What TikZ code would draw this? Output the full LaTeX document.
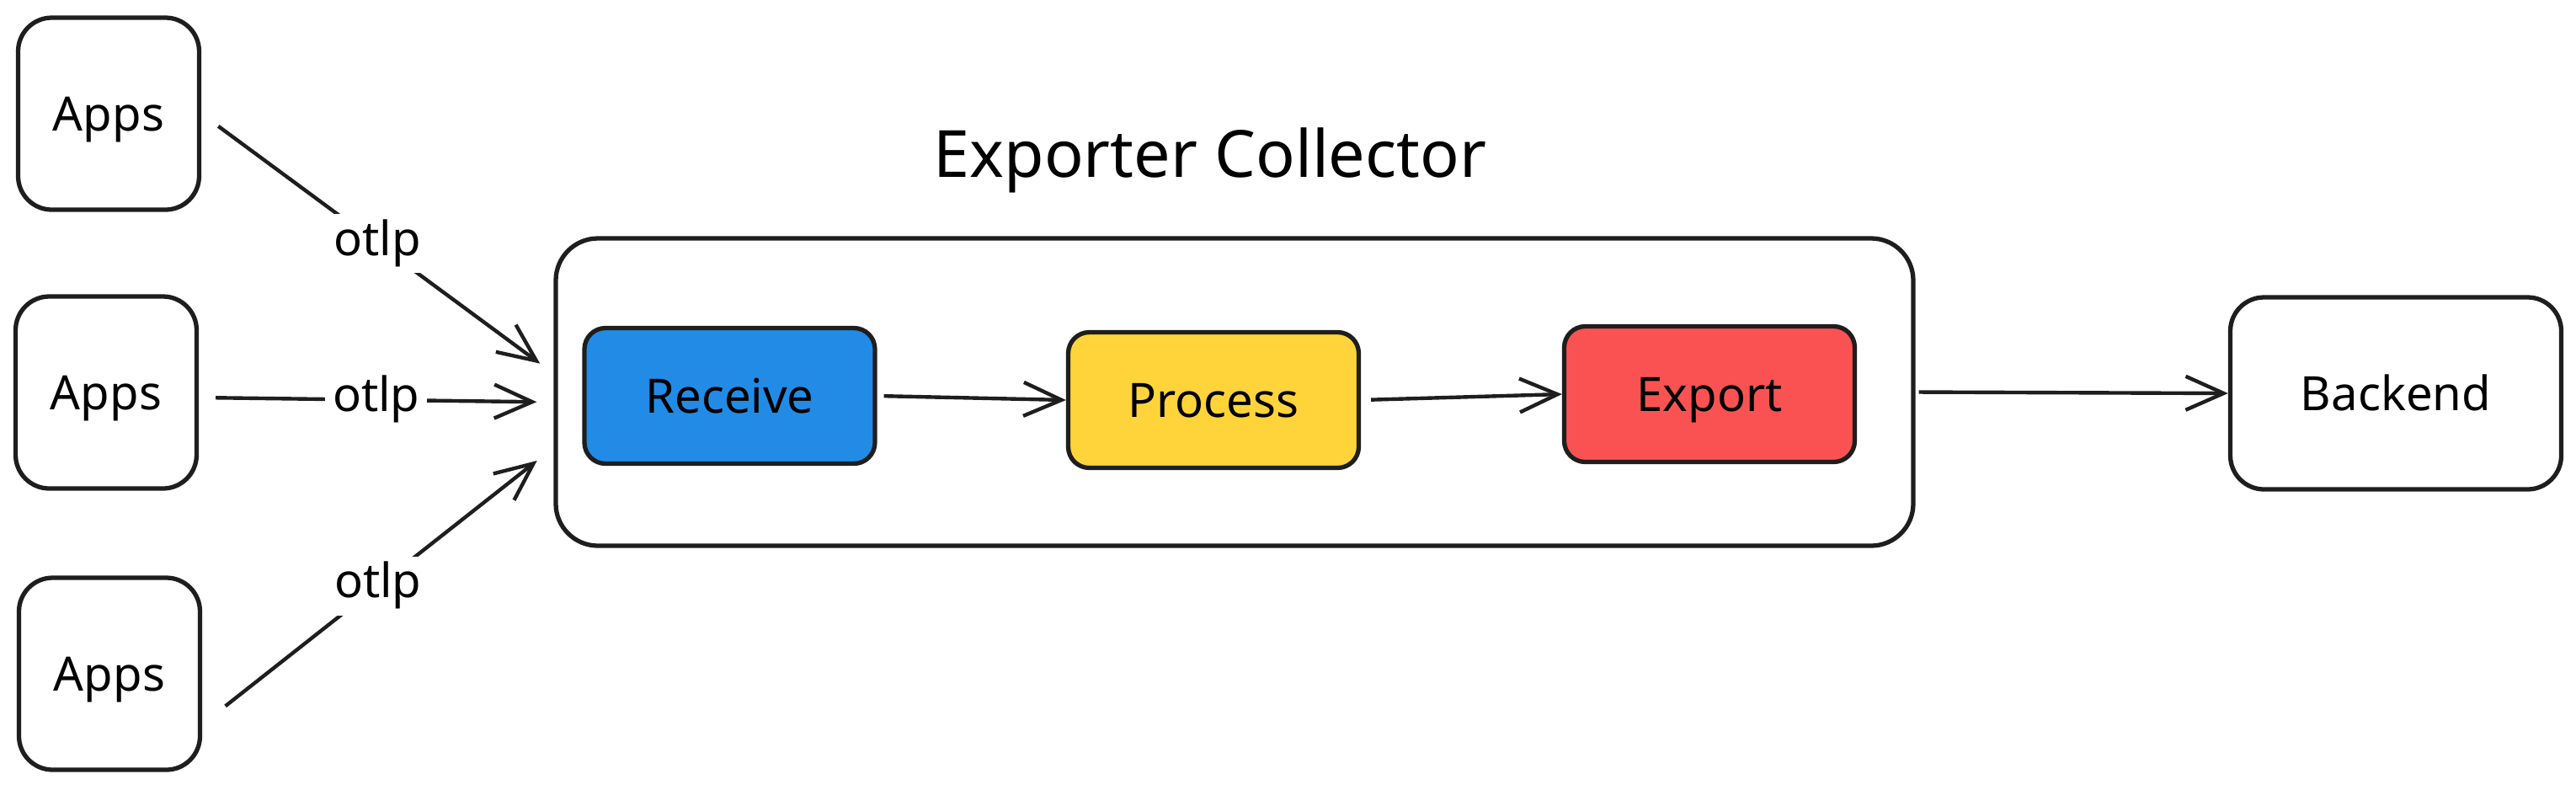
\documentclass[tikz,border=0pt]{standalone}
\usepackage{fontspec}
\setmainfont{Noto Sans}
\usetikzlibrary{arrows.meta}
\definecolor{ink}{HTML}{1E1E1E}
\definecolor{recvblue}{HTML}{228BE6}
\definecolor{procyellow}{HTML}{FFD43B}
\definecolor{exportred}{HTML}{FA5252}

\begin{document}
\begin{tikzpicture}[
  appbox/.style={draw=ink, line width=1.5pt, rounded corners=.4cm,
    minimum width=2.15cm, minimum height=2.28cm, text height=11.5pt, text depth=0pt,
    font=\fontsize{16}{19}\selectfont},
  stagebox/.style={draw=ink, line width=1.5pt, rounded corners=.25cm,
    minimum width=3.45cm, minimum height=1.61cm, text height=11.5pt, text depth=0pt,
    font=\fontsize{16}{19}\selectfont},
  flow/.style={draw=ink, line width=1.25pt, -{Straight Barb[length=4.5mm,width=4mm]}},
  wirelabel/.style={fill=white, inner sep=2.5pt, text height=11.5pt, text depth=3.5pt,
    font=\fontsize{16}{19}\selectfont}]
\useasboundingbox (0,0) rectangle (30.59,-9.37);

% sources
\node[appbox] (apps1) at (1.29,-1.35) {Apps};
\node[appbox] (apps2) at (1.26,-4.66) {Apps};
\node[appbox] (apps3) at (1.30,-8.00) {Apps};

% collector and its stages
\node[draw=ink, line width=1.5pt, rounded corners=.5cm,
  minimum width=16.12cm, minimum height=3.65cm] (collector) at (14.66,-4.655) {};
\node[anchor=base, font=\fontsize{22}{26}\selectfont] (title) at (14.37,-2.10) {Exporter Collector};

\node[stagebox, fill=recvblue] (receive) at (8.665,-4.70) {Receive};
\node[stagebox, fill=procyellow] (process) at (14.41,-4.75) {Process};
\node[stagebox, fill=exportred] (export) at (20.30,-4.68) {Export};

\node[appbox, minimum width=3.93cm] (backend) at (28.45,-4.67) {Backend};

% otlp links
\draw[flow, shorten <=.25cm, shorten >=.2cm] (apps1.east) -- node[wirelabel]{otlp} ([yshift=.22cm]collector.west);
\draw[flow, shorten <=.2cm, shorten >=.2cm] ([yshift=-.06cm]apps2.east) -- node[wirelabel]{otlp} ([yshift=-.12cm]collector.west);
\draw[flow, shorten <=.35cm, shorten >=.25cm] ([yshift=-.6cm]apps3.east) -- node[wirelabel]{otlp} ([yshift=-.66cm]collector.west);

% pipeline
\draw[flow, shorten <=.08cm] (receive.east) -- (process.west);
\draw[flow, shorten <=.12cm] (process.east) -- (export.west);
\draw[flow, shorten <=.04cm] (collector.east) -- (backend.west);
\end{tikzpicture}
\end{document}
